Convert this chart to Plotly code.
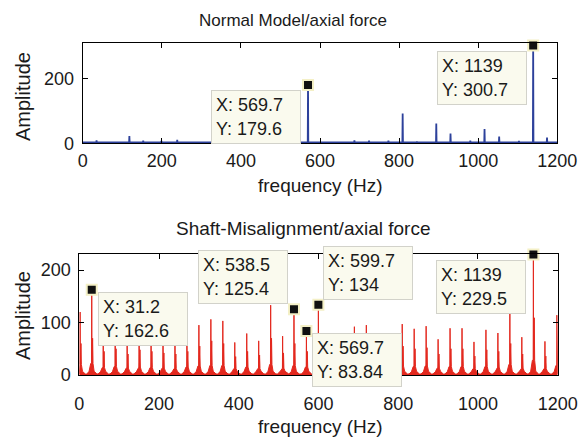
import plotly.graph_objects as go

W, H = 583, 441

# ---------------- data ----------------
top_freq = [35, 72, 118, 153, 199, 239, 280, 569.7, 604, 652, 687, 724, 773, 809,
            845, 894, 930, 980, 1016, 1053, 1103, 1139, 1174]
top_amp = [9, 3, 22, 8, 7, 11, 4, 179.6, 5, 5, 9, 8, 8, 92,
           6, 61, 30, 8, 44, 21, 7, 300.7, 18]
top_floor = 2.5

bot_freq = [2, 31.2, 60, 90, 120, 150, 180, 210, 240, 270, 300, 330, 360, 390, 420,
            450, 480, 510, 538.5, 569.7, 599.7, 630, 660, 690, 720, 750, 780, 810,
            840, 870, 900, 930, 960, 990, 1020, 1050, 1080, 1110, 1139, 1168, 1198]
bot_amp = [120, 162.6, 78, 88, 72, 84, 80, 74, 70, 82, 95, 106, 103, 62, 79,
           65, 133, 74, 125.4, 83.84, 134, 70, 68, 92, 95, 79, 48, 97,
           88, 93, 68, 89, 89, 63, 86, 80, 120, 72, 229.5, 64, 114]
bot_side = [60, 70, 45, 50, 40, 48, 45, 42, 40, 45, 55, 65, 60, 35, 45,
            38, 70, 42, 60, 45, 60, 40, 40, 50, 52, 45, 30, 55,
            50, 52, 40, 50, 50, 36, 48, 45, 60, 40, 109, 36, 60]
bot_skirt = [20, 22, 14, 16, 13, 15, 14, 13, 12, 15, 17, 18, 18, 12, 15,
             12, 20, 13, 18, 15, 20, 13, 13, 16, 17, 15, 10, 17,
             16, 17, 13, 16, 16, 12, 16, 15, 20, 13, 28, 12, 18]
bot_floor = 2

top_tips_x = [569.7, 1139]
top_tips_y = [179.6, 300.7]
bot_tips_x = [31.2, 538.5, 599.7, 569.7, 1139]
bot_tips_y = [162.6, 125.4, 134, 83.84, 229.5]

x_ticks = [0, 200, 400, 600, 800, 1000, 1200]
top_yticks = [0, 200]
bot_yticks = [0, 100, 200]

# ---------------- build traces ----------------
def top_line():
    xs, ys = [0], [top_floor]
    for f, a in zip(top_freq, top_amp):
        xs += [f - 0.7, f, f + 0.7]
        ys += [top_floor, a, top_floor]
    xs.append(1200); ys.append(top_floor)
    return xs, ys

def bot_line():
    pts = [(0, bot_floor)]
    for f, a, s, k in zip(bot_freq, bot_amp, bot_side, bot_skirt):
        seg = [(f - 13, bot_floor), (f - 7, 6), (f - 2.5, k), (f - 0.5, k),
               (f, a), (f + 0.6, k), (f + 2.2, s), (f + 3.2, k),
               (f + 6, 7), (f + 13, bot_floor)]
        pts += [p for p in seg if 0 <= p[0] <= 1200]
    pts.append((1200, bot_floor))
    pts.sort(key=lambda p: p[0])
    return [p[0] for p in pts], [p[1] for p in pts]

BLUE = "#2D419B"
RED = "#E3281E"
FONT = "Liberation Sans, Arial, Helvetica, sans-serif"
TXT = "#1a1a1a"

fig = go.Figure()
tx, ty = top_line()
fig.add_trace(go.Scatter(x=tx, y=ty, mode="lines", line=dict(color=BLUE, width=1.8),
                         xaxis="x", yaxis="y", hoverinfo="skip"))
bx, by = bot_line()
fig.add_trace(go.Scatter(x=bx, y=by, mode="lines", line=dict(color=RED, width=1),
                         fill="tozeroy", fillcolor=RED,
                         xaxis="x2", yaxis="y2", hoverinfo="skip"))

mk = dict(symbol="square", size=10, color="#111111", line=dict(color="#F4F0C6", width=2))
fig.add_trace(go.Scatter(x=top_tips_x, y=top_tips_y, mode="markers", marker=mk,
                         xaxis="x", yaxis="y", cliponaxis=False, hoverinfo="skip"))
fig.add_trace(go.Scatter(x=bot_tips_x, y=bot_tips_y, mode="markers", marker=mk,
                         xaxis="x2", yaxis="y2", cliponaxis=False, hoverinfo="skip"))

# ---------------- layout ----------------
def px_x(p):
    return p / W

def px_y(p):
    return 1 - p / H

axis_common = dict(showline=True, linecolor="black", linewidth=1, mirror="ticks",
                   ticks="inside", ticklen=5, tickcolor="black", showgrid=False,
                   zeroline=False, tickfont=dict(family=FONT, size=18, color=TXT))

fig.update_layout(
    width=W, height=H, margin=dict(l=0, r=0, t=0, b=0, autoexpand=False),
    paper_bgcolor="white", plot_bgcolor="white", showlegend=False,
    xaxis=dict(axis_common, domain=[px_x(82.7), px_x(557.3)], range=[0, 1200],
               tickvals=x_ticks, anchor="y", ticklabelstandoff=1),
    yaxis=dict(axis_common, domain=[px_y(143.3), px_y(43.3)], range=[0, 307.7],
               tickvals=top_yticks, anchor="x", ticklabelstandoff=4),
    xaxis2=dict(axis_common, domain=[px_x(79.3), px_x(557.7)], range=[0, 1200],
                tickvals=x_ticks, anchor="y2", ticklabelstandoff=12),
    yaxis2=dict(axis_common, domain=[px_y(375), px_y(254.3)], range=[0, 229.9],
                tickvals=bot_yticks, anchor="x2", ticklabelstandoff=4),
)

ann = []
def label(text, x, y, size, angle=0):
    ann.append(dict(text=text, xref="paper", yref="paper", x=px_x(x), y=px_y(y),
                    xanchor="center", yanchor="middle", showarrow=False, textangle=angle,
                    font=dict(family=FONT, size=size, color=TXT)))

label("Normal Model/axial force", 293, 20, 17)
label("Shaft-Misalignment/axial force", 303, 228, 19)
label("frequency (Hz)", 320, 185, 19)
label("frequency (Hz)", 320, 426, 19)
label("Amplitude", 23, 97, 20, -90)
label("Amplitude", 23, 316, 20, -90)

def tip(xv, yv, xa, ya, xs, ys, xr="x", yr="y"):
    ann.append(dict(text=f"X: {xv}<br>Y: {yv}", xref=xr, yref=yr, x=xv, y=yv,
                    xanchor=xa, yanchor=ya, xshift=xs, yshift=ys, showarrow=False,
                    align="left", valign="middle", width=80, height=44,
                    bgcolor="#FAFAEE", bordercolor="#D2D2CA", borderwidth=1, borderpad=4,
                    font=dict(family=FONT, size=18, color=TXT)))

tip(569.7, 179.6, "right", "top", -7, -5)
tip(1139, 300.7, "right", "top", -6, -5)
tip(31.2, 162.6, "left", "top", 6, -2, "x2", "y2")
tip(538.5, 125.4, "right", "bottom", -6, 5, "x2", "y2")
tip(599.7, 134, "left", "bottom", 5, 5, "x2", "y2")
tip(569.7, 83.84, "left", "top", 6, -2, "x2", "y2")
tip(1139, 229.5, "right", "top", -7, -5, "x2", "y2")

fig.update_layout(annotations=ann)
fig.write_html("out.html")
